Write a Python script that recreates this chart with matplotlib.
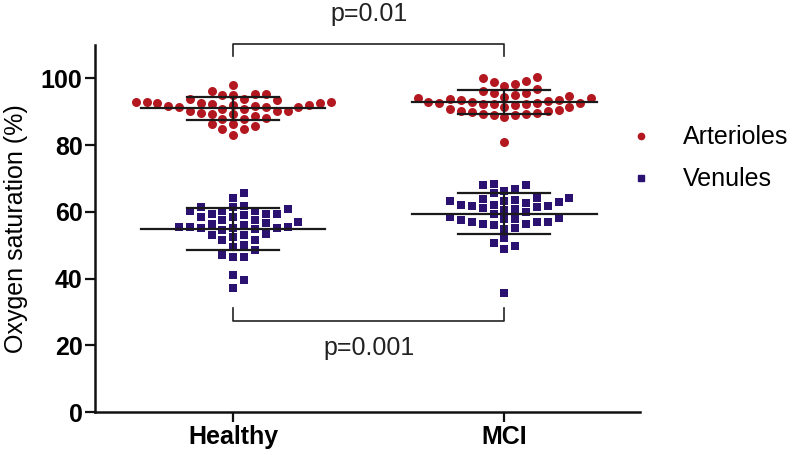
import numpy as np
import matplotlib
matplotlib.use("Agg")
import matplotlib.pyplot as plt
from matplotlib.lines import Line2D

plt.rcParams['font.family'] = ['Liberation Sans', 'DejaVu Sans']

# groups
groups = ['Healthy', 'MCI']

# oxygen saturation (%)
healthy_art = [98.0, 96.2, 95.2, 94.9, 94.9, 95.2,
               93.9, 93.4, 92.9, 92.7, 92.4, 92.1, 91.7, 91.5, 91.3, 91.5, 91.7,
               92.1, 92.5, 92.7, 93.0, 93.0, 93.7,
               90.9, 90.2, 90.2, 89.4, 88.7, 87.7, 87.7, 88.2, 89.2, 89.7, 90.2, 90.9,
               86.2, 84.7, 82.9, 84.7, 85.7, 86.2]
mci_art = [100.0, 98.9, 99.2, 100.5, 98.4, 96.9, 97.7, 95.5, 95.5, 94.9, 96.2,
           94.7, 94.2, 93.9, 93.4, 93.0, 92.7, 92.5, 92.2, 92.0, 92.4, 92.4, 92.7,
           92.9, 93.2, 93.5, 94.0, 94.4,
           91.5, 90.5, 90.2, 89.9, 89.4, 89.0, 88.4, 89.0, 89.4, 89.7, 90.2, 90.9, 91.5,
           80.9]
healthy_ven = [65.7, 64.2,
               61.4, 60.9, 60.2, 60.4, 61.4, 61.9,
               59.5, 59.4, 58.5, 57.7, 57.0, 56.8, 57.5, 58.4, 59.2, 59.5, 60.2,
               56.0, 55.2, 55.0, 55.5, 55.5, 54.5, 55.2, 55.2, 55.4, 56.4,
               53.2, 52.5, 51.7, 53.4, 51.7, 53.2,
               49.4, 50.0, 48.7,
               47.2, 46.4, 46.4,
               41.0, 39.7, 37.2]
mci_ven = [68.4, 67.9, 66.2, 65.7, 66.9, 67.9,
           64.2, 63.9, 61.5, 63.4, 60.9, 63.0, 60.0, 62.0, 62.0, 61.7, 59.4, 62.7,
           60.7, 63.2, 61.2, 63.7, 61.7, 64.0,
           57.9, 57.5, 57.0, 56.5, 58.2, 56.2, 58.4, 55.0, 55.2, 56.4, 56.9, 57.0, 57.9,
           52.2, 49.7, 49.0, 50.7,
           35.7]

# mean and SD bars as drawn
art_mean = [91.1, 93.0]
art_sd = [3.45, 3.65]
ven_mean = [54.9, 59.5]
ven_sd = [6.35, 6.15]

p_labels = ['p=0.01', 'p=0.001']

red = '#b3171f'
navy = '#2b1170'
FS = 18


def swarm(vals, d=2.8, step=0.04):
    #column beeswarm: lowest values first, nearest free column
    vals = np.asarray(vals)
    cols = {}
    offs = np.zeros(len(vals))
    seq = [0]
    for k in range(1, 30):
        seq += [k, -k]
    for i in np.argsort(vals):
        v = vals[i]
        for k in seq:
            if all(abs(v - u) >= d for u in cols.get(k, [])):
                cols.setdefault(k, []).append(v)
                offs[i] = k * step
                break
    return offs


fig = plt.figure(figsize=(7.92, 4.55), dpi=100)
ax = fig.add_axes([0.12, 0.0945, 0.688, 0.8065])

xs = np.arange(1, len(groups) + 1)
for x, a, v in zip(xs, [healthy_art, mci_art], [healthy_ven, mci_ven]):
    ax.scatter(x + swarm(a), a, s=42, marker='o', color=red, lw=0, zorder=2)
    ax.scatter(x + swarm(v, d=2.6), v, s=40, marker='s', color=navy, lw=0, zorder=2)

for means, sds in [(art_mean, art_sd), (ven_mean, ven_sd)]:
    for x, m, s in zip(xs, means, sds):
        ax.plot([x - 0.34, x + 0.34], [m, m], color='#1a1a1a', lw=1.6, zorder=3)
        ax.plot([x - 0.17, x + 0.17], [m + s, m + s], color='#1a1a1a', lw=1.6, zorder=3)
        ax.plot([x - 0.17, x + 0.17], [m - s, m - s], color='#1a1a1a', lw=1.6, zorder=3)
        ax.plot([x, x], [m - s, m + s], color='#1a1a1a', lw=1.6, zorder=3)

# significance brackets
ax.plot([1, 1, 2, 2], [106.7, 110.3, 110.3, 106.7], color='#222222', lw=1.2, clip_on=False)
ax.text(1.5, 119.3, p_labels[0], ha='center', va='center', fontsize=FS, color='#222222')
ax.plot([1, 1, 2, 2], [31.3, 27.3, 27.3, 31.3], color='#222222', lw=1.2, clip_on=False)
ax.text(1.5, 19.3, p_labels[1], ha='center', va='center', fontsize=FS, color='#222222')

ax.set_xlim(0.49, 2.5)
ax.set_ylim(0, 110)
ax.set_xticks(xs)
ax.set_xticklabels(groups, fontweight='bold', fontsize=FS)
ax.set_yticks(range(0, 101, 20))
ax.set_yticklabels([str(t) for t in range(0, 101, 20)], fontweight='bold', fontsize=FS)
ax.tick_params(width=1.6, length=7, color='#111111', pad=2)
ax.set_ylabel('Oxygen saturation (%)', fontsize=FS, labelpad=9)
for sp in ['top', 'right']:
    ax.spines[sp].set_visible(False)
for sp in ['left', 'bottom']:
    ax.spines[sp].set_linewidth(1.8)
    ax.spines[sp].set_color('#111111')

handles = [Line2D([], [], marker='o', ls='', color=red, markersize=4.5),
           Line2D([], [], marker='s', ls='', color=navy, markersize=4.5)]
fig.legend(handles, ['Arterioles', 'Venules'], loc='center left',
           bbox_to_anchor=(0.797, 0.652), frameon=False, fontsize=FS,
           handlelength=0.75, handletextpad=1.3, labelspacing=0.72,
           borderpad=0, borderaxespad=0)

fig.savefig('out.png', dpi=100)
